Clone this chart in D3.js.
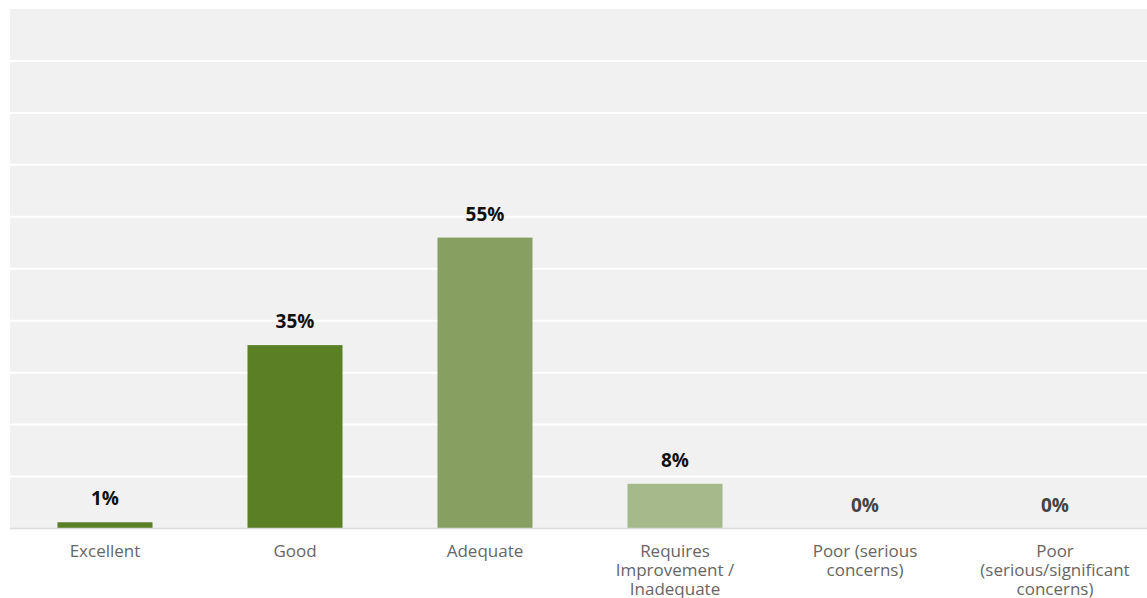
<!DOCTYPE html>
<html>
<head>
<meta charset="utf-8">
<script src="https://cdn.jsdelivr.net/npm/d3@7"></script>
<style>
  body { margin: 0; background: #fff; }
  #chart { width: 1147px; height: 598px; }
</style>
</head>
<body>
<div id="chart"></div>
<script>
// DATA
const categories = ["Excellent", "Good", "Adequate", "Requires\nImprovement /\nInadequate", "Poor (serious\nconcerns)", "Poor\n(serious/significant\nconcerns)"];
const values = [1.2, 35.3, 56.0, 8.6, 0, 0];
const valueLabels = ["1%", "35%", "55%", "8%", "0%", "0%"];
const barColors = ["#5a7f25", "#5a7f25", "#87a061", "#a6b98b", "#5a7f25", "#5a7f25"];
const gridTicks = [0, 10, 20, 30, 40, 50, 60, 70, 80, 90, 100];

const w = 1147, h = 598;
const margin = { top: 9, right: -3, bottom: 69.5, left: 10 };

const svg = d3.select("#chart").append("svg")
    .attr("width", w)
    .attr("height", h);

// SCALES
const x = d3.scaleBand()
    .domain(categories)
    .range([margin.left, w - margin.right])
    .paddingInner(0.5)
    .paddingOuter(0.25);

const y = d3.scaleLinear()
    .domain([0, 100])
    .range([h - margin.bottom, margin.top]);

// background
svg.append("rect")
    .attr("x", margin.left)
    .attr("y", margin.top)
    .attr("width", w - margin.left)
    .attr("height", y(0) - margin.top)
    .attr("fill", "#f1f1f1");

// gridlines
svg.append("g").selectAll("line")
    .data(gridTicks.slice(1, -1)).enter().append("line")
    .attr("x1", margin.left)
    .attr("x2", w)
    .attr("y1", d => y(d))
    .attr("y2", d => y(d))
    .attr("stroke", "#fff")
    .attr("stroke-width", 2);

// bars
svg.append("g").selectAll(".bar")
    .data(values).enter().append("rect")
    .attr("class", "bar")
    .attr("x", (d, i) => x(categories[i]))
    .attr("width", x.bandwidth())
    .attr("y", d => y(d))
    .attr("height", d => y(0) - y(d))
    .attr("fill", (d, i) => barColors[i]);

// baseline
svg.append("line")
    .attr("x1", margin.left)
    .attr("x2", w)
    .attr("y1", y(0))
    .attr("y2", y(0))
    .attr("stroke", "#dcdcdc")
    .attr("stroke-width", 1.5);

// value labels
svg.append("g").selectAll("text")
    .data(values).enter().append("text")
    .attr("x", (d, i) => x(categories[i]) + x.bandwidth() / 2)
    .attr("y", d => y(d) - 17)
    .attr("text-anchor", "middle")
    .attr("font-family", "'Open Sans', sans-serif")
    .attr("font-weight", 700)
    .attr("font-size", 19)
    .attr("fill", d => d === 0 ? "#444" : "#111")
    .text((d, i) => valueLabels[i]);

// x axis
const xAxis = svg.append("g")
    .attr("transform", "translate(0," + y(0) + ")")
    .call(d3.axisBottom(x).tickSize(0).tickPadding(0));
xAxis.select(".domain").remove();
xAxis.selectAll(".tick text").remove();

xAxis.selectAll(".tick").each(function (d) {
    const tick = d3.select(this);
    d.split("\n").forEach((line, i) => {
        tick.append("text")
            .attr("x", 0)
            .attr("y", 28 + i * 19)
            .attr("text-anchor", "middle")
            .attr("font-family", "'Open Sans', sans-serif")
            .attr("font-size", 17)
            .attr("fill", "#666")
            .text(line);
    });
});
</script>
</body>
</html>
